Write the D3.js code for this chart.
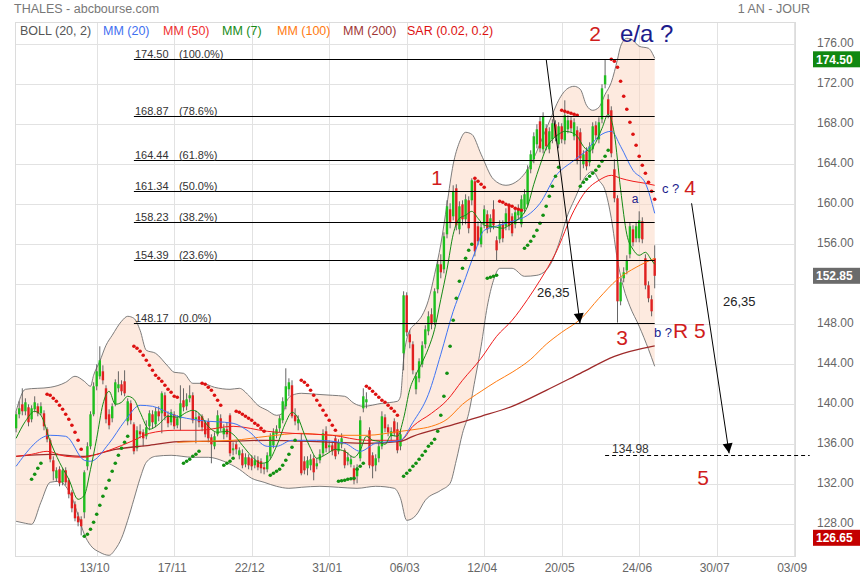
<!DOCTYPE html>
<html><head><meta charset="utf-8">
<script src="https://cdn.jsdelivr.net/npm/d3@7"></script>
<style>body{margin:0;background:#fff;} svg{display:block;font-family:"Liberation Sans",Arial,sans-serif;}</style>
</head><body><svg id="c" width="860" height="580"></svg>
<script>
// ---------- DATA ----------
const dateTicks = [26,51,76,101,126,151,176,201,226,251];
const dateLabels = ["13/10","17/11","22/12","31/01","06/03","12/04","20/05","24/06","30/07","03/09"];
const priceTicks = [128,132,136,140,144,148,152,156,160,164,168,172,176];

const open = [137.6,139.0,140.0,139.3,139.7,138.5,139.5,139.8,139.1,139.1,
137.5,136.4,134.4,132.6,133.5,132.2,133.4,132.4,131.2,130.0,
128.8,128.5,129.2,133.8,135.8,139.0,141.8,142.8,143.3,141.6,
139.0,138.6,140.0,141.6,142.0,142.3,138.3,140.1,138.0,135.6,
137.3,137.2,136.8,137.8,139.0,138.0,139.3,139.1,140.9,138.9,
138.2,139.0,137.9,138.6,140.4,139.8,140.6,140.9,138.5,138.8,
138.8,138.2,138.3,136.7,135.8,137.0,138.6,137.0,137.5,138.9,
135.4,136.0,134.9,135.1,134.0,134.7,134.6,133.9,134.4,134.3,
133.7,133.5,134.8,135.9,137.0,137.6,138.4,139.8,141.5,141.9,
138.9,138.1,136.4,134.3,133.6,133.9,134.6,133.8,134.4,135.1,
137.3,135.7,135.9,136.6,135.3,136.0,135.4,134.3,134.0,133.6,
132.8,134.6,139.6,140.2,137.4,134.9,133.9,134.6,135.8,138.7,
137.7,136.8,138.3,137.5,135.8,
145.1,150.9,147.0,146.0,141.5,142.6,144.0,146.0,147.3,149.0,
148.2,151.5,154.0,153.5,157.0,159.5,158.8,161.6,157.5,160.0,
158.5,160.4,160.4,162.3,157.8,156.0,158.0,159.0,157.6,159.5,
156.4,156.5,158.0,157.8,159.8,158.8,158.0,158.9,158.0,159.5,
160.0,163.5,164.5,166.0,168.3,165.5,167.6,165.5,166.5,168.0,
166.0,167.8,166.4,167.5,168.4,166.8,167.4,167.2,164.0,165.3,
164.2,165.5,167.9,166.5,168.5,172.0,170.5,169.4,163.5,160.6,
150.3,152.6,153.4,155.0,157.5,156.6,156.6,158.3,154.6,151.9,
150.5,154.6];
const close = [139.0,139.6,139.3,140.2,138.2,139.6,140.2,139.1,139.8,137.8,
136.5,134.5,133.3,133.4,132.1,133.4,132.2,131.0,129.6,128.6,
128.2,127.8,133.2,135.8,139.0,141.8,143.3,144.4,142.4,138.5,
137.9,139.8,142.2,142.0,141.3,141.1,140.3,138.4,135.3,137.4,
137.0,136.6,137.7,139.1,138.2,139.3,138.8,141.1,138.8,138.1,
139.2,137.8,138.6,140.1,139.7,140.5,140.9,138.4,138.7,138.2,
137.7,137.0,136.6,136.0,136.8,138.9,137.6,137.6,137.0,135.1,
135.6,135.5,135.4,133.9,134.7,133.9,133.8,134.4,133.7,133.6,
133.5,134.9,136.8,137.2,137.5,138.6,140.3,141.8,142.2,138.8,
138.3,138.5,133.1,133.4,134.4,134.5,133.2,134.1,135.0,137.1,
135.6,135.9,135.3,134.8,136.2,136.6,133.9,134.7,134.5,132.4,
133.7,138.4,140.8,140.5,133.9,133.8,134.6,135.8,138.8,137.6,
137.2,137.3,137.1,135.4,137.0,
150.9,147.2,146.2,143.4,142.8,144.3,145.9,147.5,148.8,148.0,
151.3,154.0,153.2,156.8,159.8,158.2,161.3,157.9,159.8,158.5,
160.5,157.6,162.4,155.3,156.3,157.7,159.5,157.5,158.6,157.9,
155.4,158.0,156.6,159.1,157.8,157.1,159.2,159.4,160.5,161.0,
163.5,165.0,166.8,167.5,165.6,168.8,165.8,167.3,168.1,166.7,
167.8,166.5,168.9,168.4,167.6,168.2,164.4,164.6,165.0,163.8,
165.8,167.8,166.9,168.2,171.6,172.9,169.0,165.1,160.6,150.3,
152.2,153.2,154.4,157.8,156.2,157.8,158.4,156.5,151.9,150.6,
149.3,152.85];
const high = [139.3,140.3,141.6,140.6,140.0,139.9,140.8,140.1,140.2,139.4,
137.7,136.6,134.8,133.7,133.8,133.6,133.7,132.6,131.4,130.3,
129.2,128.8,133.4,136.2,139.3,142.2,144.0,145.8,143.9,141.9,
139.5,140.1,142.5,143.3,142.4,143.4,140.6,140.4,138.2,137.8,
138.0,137.5,138.4,139.4,139.4,139.7,139.8,141.3,141.2,139.3,
139.5,139.3,138.9,141.9,141.6,141.1,141.9,141.2,139.4,139.1,
139.0,138.4,138.6,137.0,137.2,139.4,139.0,138.0,138.2,139.1,
136.2,136.3,135.7,135.5,135.1,135.0,134.9,134.9,134.8,134.6,
134.1,135.2,137.1,137.6,137.9,138.9,140.7,143.6,142.6,142.4,
139.6,138.9,137.1,134.8,134.8,135.0,134.9,134.6,135.5,137.5,
137.8,136.4,136.3,136.9,136.5,137.1,135.6,135.2,134.9,133.9,
134.0,138.8,141.6,141.2,137.7,135.2,135.0,136.2,139.3,139.0,
138.0,137.7,138.6,138.2,137.5,
151.3,151.2,147.4,146.3,143.2,144.6,146.3,147.9,149.3,149.6,
151.6,154.4,155.0,157.2,160.4,160.1,161.9,162.0,160.3,160.4,
161.0,160.8,162.6,162.5,158.3,158.2,159.9,159.4,159.0,160.4,
156.8,158.4,158.4,159.6,160.1,159.1,159.6,160.0,160.9,161.5,
163.9,165.4,167.2,168.0,168.8,169.2,168.0,167.7,168.5,168.4,
168.2,168.1,170.4,168.9,168.8,168.6,167.8,167.6,165.4,165.7,
166.2,168.2,168.3,168.7,172.0,174.5,171.0,169.8,164.5,160.9,
152.6,153.7,154.9,158.2,157.9,158.2,159.3,158.7,155.0,152.3,
150.9,155.9];
const low = [137.2,138.6,138.9,138.9,137.8,138.2,139.2,138.8,138.9,137.4,
136.2,134.2,132.4,132.3,131.8,131.9,131.9,130.6,129.2,128.3,
127.8,126.9,128.6,133.4,135.5,138.8,141.4,142.5,142.0,138.1,
137.5,138.2,139.8,141.2,140.9,140.8,137.9,138.0,135.0,135.3,
136.6,135.8,136.5,137.4,137.6,137.7,138.3,137.1,138.4,137.7,
137.9,137.5,137.6,137.4,139.3,139.4,140.2,138.1,136.1,137.7,
137.3,136.7,136.2,134.1,135.5,136.8,137.3,136.5,136.7,134.8,
134.9,135.0,134.5,133.6,133.7,133.5,133.4,133.6,133.4,133.1,
133.0,133.2,134.5,135.6,136.6,137.2,138.1,139.5,140.8,138.6,
137.9,137.4,132.9,133.0,132.9,133.4,132.4,133.5,134.1,134.8,
135.2,135.2,134.9,134.5,135.0,135.6,133.6,133.9,133.7,132.0,
132.1,134.3,139.2,139.6,133.6,132.6,133.3,134.2,135.5,137.2,
136.8,136.4,136.8,135.1,135.4,
143.4,146.8,145.6,143.0,141.0,142.2,143.7,145.6,146.9,147.5,
147.9,151.1,152.6,153.1,156.6,157.6,158.4,157.4,157.0,157.9,
158.0,157.1,159.9,154.8,155.9,155.7,157.6,157.1,157.2,157.5,
154.4,156.1,156.2,157.4,157.4,156.8,157.6,158.5,157.7,159.1,
159.7,163.1,164.1,165.6,165.2,165.1,165.4,165.1,166.1,166.3,
165.6,166.1,166.0,167.1,167.2,166.4,164.0,162.4,163.6,163.4,
163.8,165.1,166.5,166.1,168.1,171.6,168.6,164.7,160.2,148.17,
149.9,152.2,153.0,154.6,155.8,156.2,156.2,156.1,151.5,150.2,
148.8,151.6];

// indicator readings [bar index, value]
const bollUpper = [[0,139.3],[3,141.5],[11,141.7],[16,142.2],[19,142.8],[22,142.3],[24,141.8],[25,142.9],[27,144.3],[29,145.9],[31,146.9],[34,148.3],[36,148.8],[38,148.6],[40,147.4],[42,145.4],[45,145.1],[49,143.8],[51,143.2],[54,143.1],[57,142.1],[60,142.1],[64,141.7],[69,141.5],[72,141.6],[75,140.9],[78,139.9],[81,139.4],[84,138.9],[86,139.1],[87,140.1],[89,140.9],[92,141.1],[97,141.0],[102,140.9],[106,140.8],[109,140.1],[112,139.8],[118,140.1],[123,140.3],[124,140.8],[125,144.5],[127,147.4],[129,148.1],[131,148.9],[133,150.4],[135,153.0],[137,156.0],[139,160.0],[141,164.0],[143,166.2],[145,167.2],[147,167.0],[150,165.0],[154,162.5],[158,161.9],[162,162.4],[166,164.0],[170,166.8],[173,169.0],[175,170.4],[178,171.6],[180,171.8],[182,171.5],[184,169.9],[186,169.4],[188,169.7],[190,171.0],[192,172.2],[194,174.5],[195,175.8],[197,176.6],[199,176.4],[201,175.8],[204,175.6],[206,174.6]];
const bollLower = [[0,128.3],[3,128.1],[5,128.0],[8,130.2],[11,132.2],[14,132.3],[16,131.8],[18,130.7],[20,128.9],[22,127.0],[24,125.9],[27,125.2],[30,124.9],[32,125.5],[34,126.6],[36,128.4],[38,130.5],[40,132.6],[42,134.2],[45,134.8],[50,134.9],[57,134.7],[62,134.7],[67,134.3],[72,133.5],[76,132.6],[80,132.2],[84,131.8],[88,131.6],[92,131.7],[98,131.8],[104,131.7],[110,131.6],[116,131.8],[122,131.6],[124,130.6],[126,128.4],[129,128.9],[132,130.4],[137,131.4],[140,132.1],[142,134.4],[144,137.1],[146,139.1],[148,142.4],[150,145.8],[152,149.8],[154,152.4],[156,153.6],[160,153.6],[164,152.8],[168,152.9],[172,153.8],[175,156.0],[178,159.0],[180,160.4],[184,162.9],[186,163.3],[188,162.4],[190,161.4],[192,158.6],[194,154.4],[196,151.6],[198,149.8],[201,147.8],[204,145.5],[206,143.8]];
const mm20 = [[0,133.8],[11,136.9],[16,136.8],[22,134.4],[24,134.3],[30,136.1],[35,138.3],[40,139.9],[44,139.8],[51,138.9],[59,138.4],[70,138.1],[75,137.3],[81,135.8],[84,135.8],[89,136.4],[97,136.4],[106,136.1],[111,135.3],[116,136.1],[124,136.4],[128,138.2],[133,141.0],[137,145.0],[141,149.3],[144,151.8],[148,155.2],[151,157.4],[156,157.9],[160,158.3],[165,158.9],[169,160.1],[174,162.8],[180,164.4],[184,165.4],[188,166.8],[192,167.3],[195,165.8],[199,163.4],[203,162.1],[206,159.1]];
const mm50 = [[0,134.8],[5,135.0],[10,135.3],[16,134.8],[22,134.7],[25,134.9],[30,135.4],[38,136.4],[43,137.1],[51,137.4],[59,137.4],[70,137.8],[81,137.3],[89,137.1],[102,136.9],[113,136.4],[124,136.4],[128,137.8],[134,139.1],[139,140.4],[144,142.4],[150,144.6],[155,146.8],[160,148.4],[165,150.5],[169,152.4],[174,155.1],[180,159.4],[184,161.4],[188,162.4],[192,162.9],[195,162.6],[199,162.3],[203,162.1],[206,161.9]];
const mm7 = [[0,136.6],[3,138.3],[6,139.3],[8,138.9],[11,136.3],[14,134.2],[17,132.5],[20,130.5],[22,130.9],[24,133.5],[26,136.6],[28,140.0],[30,141.3],[32,140.0],[34,140.2],[36,140.8],[38,140.5],[40,139.2],[43,137.5],[46,138.0],[49,138.8],[52,138.7],[55,139.2],[57,139.4],[59,139.1],[62,137.8],[65,137.2],[68,137.3],[70,137.0],[73,135.9],[76,134.8],[79,134.1],[81,134.2],[84,135.8],[87,138.2],[89,139.2],[91,138.6],[93,137.0],[95,135.6],[97,134.6],[100,135.0],[103,135.5],[106,135.3],[109,134.7],[111,135.4],[113,136.8],[115,136.4],[117,136.3],[119,136.0],[121,136.9],[123,136.8],[125,138.6],[127,141.5],[129,143.0],[131,144.2],[133,145.6],[135,147.5],[137,150.5],[139,153.5],[141,157.0],[143,158.6],[145,158.9],[147,159.3],[149,158.6],[151,157.9],[153,157.8],[155,157.7],[157,157.6],[159,157.9],[161,158.3],[163,158.8],[165,159.8],[167,162.0],[169,163.9],[171,165.6],[173,166.5],[175,167.0],[177,167.3],[179,167.2],[181,166.8],[183,165.8],[185,165.3],[187,166.2],[189,167.6],[191,169.0],[193,167.0],[195,161.5],[197,157.0],[199,155.5],[201,154.9],[203,155.2],[205,154.4],[206,154.0]];
const mm100 = [[52,136.2],[60,136.3],[70,136.4],[81,136.8],[92,137.1],[102,136.9],[113,136.9],[124,137.3],[129,137.5],[134,137.8],[139,138.5],[144,140.0],[150,141.3],[155,142.3],[160,143.2],[166,144.5],[171,146.0],[176,147.2],[182,148.5],[188,150.6],[194,152.5],[200,153.7],[206,154.6]];
const mm200 = [[0,134.8],[11,135.0],[22,134.8],[32,135.5],[43,135.9],[54,136.3],[65,136.3],[81,136.4],[102,136.2],[113,136.1],[124,136.3],[128,136.8],[139,137.8],[150,138.8],[160,139.8],[171,141.4],[182,143.1],[193,144.8],[206,145.85]];

// Parabolic SAR runs: first bar of the run, side, dot values
const sarStart = [5,10,22,38,54,60,67,71,82,92,104,113,125,148,152,156,164,176,182,192];
const sarUp    = [1,0,1,0,1,0,1,0,1,0,1,0,1,0,1,0,1,0,1,0];
const sarValues = [
 [132.5,133.0,133.6,134.1],
 [141.0,140.9,140.6,140.3,139.9,139.5,139.0,138.5,137.9,137.2,136.4,135.5],
 [126.8,127.0,127.5,128.2,129.0,129.9,130.8,131.6,132.4,133.3,134.1,134.9,135.6,136.2,136.8],
 [145.8,145.6,145.3,144.9,144.4,143.9,143.4,142.9,142.6,142.3,141.9,141.5,141.2,140.8,140.7],
 [134.1,134.3,134.5,134.8,135.0,135.3],
 [142.1,142.0,141.7,141.4,140.9,140.4,139.9],
 [133.9,134.1,134.3,134.6],
 [139.3,139.2,139.0,138.8,138.6,138.4,138.1,137.9,137.6,137.3],
 [132.9,133.1,133.3,133.5,133.9,134.4,135.0,135.7,136.4],
 [142.4,142.2,141.9,141.4,140.9,140.4,139.9,139.4,138.9,138.4,137.9,137.4],
 [132.3,132.35,132.4,132.5,132.55,132.6,133.5,133.8,134.1],
 [141.8,141.6,141.3,141.0,140.7,140.4,140.2,139.9,139.6,139.3,138.9],
 [132.8,133.1,133.4,133.8,134.1,134.5,134.9,135.3,135.8,136.1,136.5,137.3,138.9,140.8,143.1,145.8,148.4,150.6,152.3,153.6,154.6,155.4,156.0],
 [162.6,162.3,162.0,161.7],
 [152.6,152.7,152.8,152.9],
 [160.3,160.2,160.0,159.9,159.8,159.6,159.5,159.4],
 [155.6,155.9,156.3,156.8,157.4,158.1,158.9,159.8,160.8,161.8,162.8,163.7],
 [169.4,169.3,169.2,169.1,169.0,168.9],
 [161.8,162.2,162.5,162.8,163.1,163.4,163.8,164.3,164.8,165.4],
 [174.5,174.3,173.7,172.3,170.8,169.5,168.2,167.0,165.9,164.8,163.9,163.1,162.2,161.3,160.5]
];

const fibLevels = [174.50,168.87,164.44,161.34,158.23,154.39,148.17];
const fibPct = ["(100.0%)","(78.6%)","(61.8%)","(50.0%)","(38.2%)","(23.6%)","(0.0%)"];
const fibFrom = 38, fibTo = 206;
const target = 134.98, targetFrom = 190, targetTo = 256;
const badges = [[174.50,"#118811"],[152.85,"#6b6b6b"],[126.65,"#c40000"]];

// ---------- DRAW ----------
const svg = d3.select("#c");
const L = 15, T = 22, R = 795, B = 556;
const x = d3.scaleLinear().domain([0,251]).range([16.1,794.2]);
const y = d3.scaleLinear().domain([124.83,178.23]).range([B,T]);

svg.append("defs").append("clipPath").attr("id","clip")
  .append("rect").attr("x",L).attr("y",T).attr("width",R-L).attr("height",B-T);

// grid
const grid = svg.append("g").attr("stroke","#e2e2e2").attr("stroke-width",1);
priceTicks.forEach(v => grid.append("line").attr("x1",L).attr("x2",R)
  .attr("y1",Math.round(y(v))+0.5).attr("y2",Math.round(y(v))+0.5));
dateTicks.forEach(d => grid.append("line").attr("y1",T).attr("y2",B)
  .attr("x1",Math.round(x(d))+0.5).attr("x2",Math.round(x(d))+0.5));
svg.append("rect").attr("x",L+0.5).attr("y",T+0.5).attr("width",R-L).attr("height",B-T)
  .attr("fill","none").attr("stroke","#dcdcdc");

const plot = svg.append("g").attr("clip-path","url(#clip)");
const line = d3.line().x(d=>x(d[0])).y(d=>y(d[1])).curve(d3.curveMonotoneX);

// bollinger fill
const upPath = line(bollUpper);
const loPath = line(bollLower.slice().reverse());
plot.append("path").attr("d", upPath + loPath.replace(/^M/,"L") + "Z")
  .attr("fill","#fbd6bf").attr("fill-opacity",0.5).attr("stroke","none");
[bollUpper,bollLower].forEach(b => plot.append("path").attr("d",line(b))
  .attr("fill","none").attr("stroke","#6e6e6e").attr("stroke-width",0.9));

// candles
const bars = plot.append("g");
open.forEach((o,i) => {
  const c = close[i];
  const cx = x(i);
  bars.append("line").attr("x1",cx).attr("x2",cx).attr("y1",y(high[i])).attr("y2",y(low[i]))
    .attr("stroke","#555").attr("stroke-width",0.9);
  const top = y(Math.max(o,c)), bot = y(Math.min(o,c));
  bars.append("rect").attr("x",cx-1.2).attr("width",2.4)
    .attr("y",top).attr("height",Math.max(1,bot-top))
    .attr("fill", c>=o ? "#1fbf1f" : "#e02020");
});

// moving averages
[[mm200,"#9e2a2a",1.3],[mm100,"#ff7a10",1],[mm50,"#f01c1c",1],[mm20,"#3f74f4",1],[mm7,"#168a16",1]]
 .forEach(([d,col,w]) => plot.append("path").attr("d",line(d)).attr("fill","none")
   .attr("stroke",col).attr("stroke-width",w));

// SAR
const sarG = plot.append("g");
sarStart.forEach((s,k) => sarValues[k].forEach((v,j) =>
  sarG.append("circle").attr("cx",x(s+j)).attr("cy",y(v)).attr("r",1.8)
    .attr("fill", sarUp[k] ? "#129012" : "#dd1111")));

// fibonacci
fibLevels.forEach((v,k) => {
  const yy = Math.round(y(v))+0.5;
  svg.append("line").attr("x1",x(fibFrom)).attr("x2",x(fibTo)).attr("y1",yy).attr("y2",yy)
    .attr("stroke","#000").attr("stroke-width",1);
  svg.append("text").attr("x",x(fibFrom)+1).attr("y",yy-1.5).attr("font-size",11).attr("fill","#333")
    .text(v.toFixed(2));
  svg.append("text").attr("x",x(fibFrom)+45).attr("y",yy-1.5).attr("font-size",11).attr("fill","#333")
    .text(fibPct[k]);
});

// target dashed line
const ty = Math.round(y(target))+0.5;
svg.append("line").attr("x1",x(targetFrom)).attr("x2",x(targetTo)).attr("y1",ty).attr("y2",ty)
  .attr("stroke","#000").attr("stroke-dasharray","4,3");
svg.append("text").attr("x",x(targetFrom)+7).attr("y",ty-2.5).attr("font-size",12).attr("fill","#333")
  .text(target.toFixed(2));

// arrows
function arrow(x1,y1,x2,y2){
  svg.append("line").attr("x1",x1).attr("y1",y1).attr("x2",x2).attr("y2",y2).attr("stroke","#000").attr("stroke-width",1);
  const a = Math.atan2(y2-y1,x2-x1), len=10, hw=5;
  const bx = x2-len*Math.cos(a), by = y2-len*Math.sin(a);
  const px = -Math.sin(a)*hw, py = Math.cos(a)*hw;
  svg.append("path").attr("d",`M${x2},${y2}L${bx+px},${by+py}L${bx-px},${by-py}Z`).attr("fill","#000");
}
arrow(x(171.0), y(174.5), x(181.9), y(148.1));
arrow(x(217.9), y(160.1), x(230.0), y(135.1));

// annotations
const red="#d01c1c", navy="#1c1c8c";
function label(t,xx,yy,size,col,anchor){
  svg.append("text").attr("x",xx).attr("y",yy).attr("font-size",size).attr("fill",col)
   .attr("text-anchor",anchor||"middle").text(t);
}
label("1",436.7,185,20,red);
label("2",595,41,21,red);
label("e/a ?",620,42,24,navy,"start");
label("3",622,345,21,red);
label("4",690,195,21,red);
label("R 5",673,338,21,red,"start");
label("b ?",654,337,13,navy,"start");
label("c ?",662,193,13,navy,"start");
label("a",635,203,12,navy);
label("5",703,485,21,red);
label("26,35",537,297,13,"#222","start");
label("26,35",723,306,13,"#222","start");

// right axis (labels hidden under a price badge are not drawn, as in the original)
const ax = svg.append("g").attr("font-size",12).attr("fill","#666");
priceTicks.forEach(v => {
  if (badges.some(b => Math.abs(y(b[0]) - y(v)) < 12)) return;
  ax.append("text").attr("x",817).attr("y",y(v)+2.5).text(v.toFixed(2));
});
badges.forEach(([v,col]) => {
  const yy = y(v);
  svg.append("rect").attr("x",813).attr("y",yy-8).attr("width",47).attr("height",16).attr("fill",col);
  svg.append("text").attr("x",816).attr("y",yy+4.5).attr("font-size",12).attr("font-weight","bold")
    .attr("fill","#fff").text(v.toFixed(2));
});

// date axis
dateTicks.forEach((d,k) => svg.append("text").attr("x",x(d)-2).attr("y",572).attr("font-size",12)
  .attr("fill","#666").attr("text-anchor","middle").text(dateLabels[k]));

// header & legend
svg.append("text").attr("x",14).attr("y",13).attr("font-size",12.5).attr("fill","#777").text("THALES - abcbourse.com");
svg.append("text").attr("x",810).attr("y",13).attr("font-size",12.5).attr("fill","#777").attr("text-anchor","end").text("1 AN - JOUR");
const legend = [["BOLL (20, 2)","#555",20],["MM (20)","#3f6ff0",103],["MM (50)","#f03030",163],
  ["MM (7)","#168a16",222],["MM (100)","#ff7a10",277],["MM (200)","#a03535",343],["SAR (0.02, 0.2)","#dd1111",407]];
legend.forEach(([t,c,xx]) => svg.append("text").attr("x",xx).attr("y",35).attr("font-size",12.5).attr("fill",c).text(t));
</script>
</body></html>
